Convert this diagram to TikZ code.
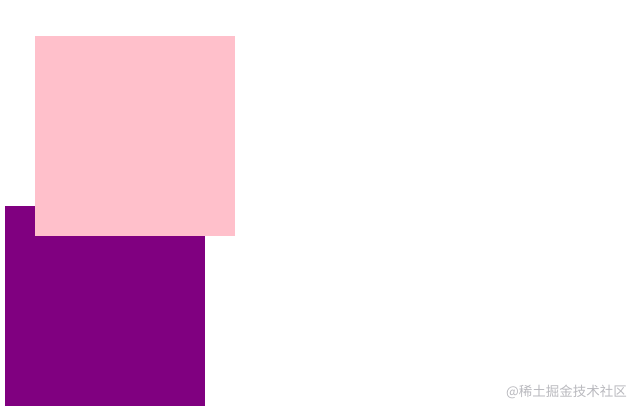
\documentclass[tikz,border=0pt]{standalone}
\usepackage{fontspec}
\newfontfamily\cjk{Noto Sans CJK SC}
\definecolor{pinkbox}{RGB}{255,192,203}
\definecolor{purplebox}{RGB}{128,0,128}
\definecolor{wm}{RGB}{185,185,190}
\begin{document}
\begin{tikzpicture}[x=1pt,y=-1pt,
  box/.style={draw=none,inner sep=0pt,outer sep=0pt,minimum size=200pt,anchor=north west},
  mark/.style={}]
\useasboundingbox (0,0) rectangle (639,412);
\node[box,fill=purplebox] (purple) at (5,206) {};
\node[box,fill=pinkbox] (pink) at (35,36) {};
\node[text=wm,font=\cjk\fontsize{13.5}{15}\selectfont,inner sep=0pt,anchor=east] (wmark) at (627,392) {@稀土掘金技术社区};
\end{tikzpicture}
\end{document}
